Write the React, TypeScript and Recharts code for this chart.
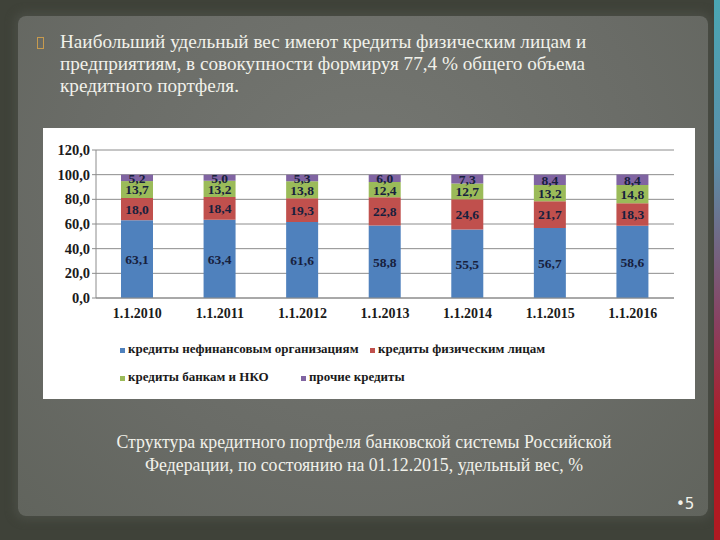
import React from "react";
import { BarChart, Bar, XAxis, YAxis, CartesianGrid, LabelList } from "recharts";

const years = ["1.1.2010", "1.1.2011", "1.1.2012", "1.1.2013", "1.1.2014", "1.1.2015", "1.1.2016"];
const nonFinancial = [63.1, 63.4, 61.6, 58.8, 55.5, 56.7, 58.6];
const individuals = [18.0, 18.4, 19.3, 22.8, 24.6, 21.7, 18.3];
const banks = [13.7, 13.2, 13.8, 12.4, 12.7, 13.2, 14.8];
const other = [5.2, 5.0, 5.3, 6.0, 7.3, 8.4, 8.4];
const yTicks = [0, 20, 40, 60, 80, 100, 120];

const SERIES = [
  { key: "nonFinancial", name: "кредиты нефинансовым организациям", color: "#4f81bd" },
  { key: "individuals", name: "кредиты физическим лицам", color: "#c0504d" },
  { key: "banks", name: "кредиты банкам и НКО", color: "#9bbb59" },
  { key: "other", name: "прочие кредиты", color: "#8064a2" },
];

const data = years.map((year, i) => ({
  year,
  nonFinancial: nonFinancial[i],
  individuals: individuals[i],
  banks: banks[i],
  other: other[i],
}));

const serif = "Liberation Serif, DejaVu Serif, serif";
const fmt = (v: number) => v.toFixed(1).replace(".", ",");

function LegendItem({ color, label, x, y }: { color: string; label: string; x: number; y: number }) {
  return (
    <div style={{ position: "absolute", left: x, top: y, display: "flex", alignItems: "flex-end", whiteSpace: "nowrap" }}>
      <span style={{ width: 5, height: 5, background: color, marginRight: 3, marginBottom: 4 }} />
      <span style={{ fontFamily: serif, fontWeight: 700, fontSize: 13, color: "#1a1a1a" }}>{label}</span>
    </div>
  );
}

export default function App() {
  return (
    <div
      style={{
        position: "absolute",
        left: 0,
        top: 0,
        width: 720,
        height: 540,
        overflow: "hidden",
        background: "#3f4239",
      }}
    >
      {/* paper */}
      <div
        style={{
          position: "absolute",
          left: 18,
          top: 16,
          width: 690,
          height: 500,
          borderRadius: 8,
          background: "radial-gradient(ellipse at 50% 35%, #757772 0%, #6a6c67 60%, #61645d 100%)",
          boxShadow: "0 0 8px 4px #4a4d45",
        }}
      />
      {/* right edge strip */}
      <div
        style={{
          position: "absolute",
          left: 714,
          top: 0,
          width: 6,
          height: 540,
          background: "linear-gradient(#4aa6b4 0%, #5a8fa8 30%, #8a4060 60%, #b01a22 80%, #b01a22 100%)",
        }}
      />

      {/* bullet */}
      <div style={{ position: "absolute", left: 37, top: 37, width: 5, height: 10, border: "1px solid #c79a4e" }} />
      <div
        style={{
          position: "absolute",
          left: 60,
          top: 31,
          fontFamily: serif,
          fontSize: 19.2,
          lineHeight: "22px",
          color: "#f1f1ea",
          whiteSpace: "nowrap",
        }}
      >
        Наибольший удельный вес имеют кредиты физическим лицам и
        <br />
        предприятиям, в совокупности формируя 77,4 % общего объема
        <br />
        кредитного портфеля.
      </div>

      {/* chart box */}
      <div style={{ position: "absolute", left: 43, top: 128, width: 652, height: 271, background: "#ffffff" }}>
        <BarChart width={652} height={271} data={data} margin={{ top: 22, right: 21, left: 0, bottom: 71 }} barSize={32}>
          <CartesianGrid vertical={false} stroke="#8c8c8c" strokeWidth={1} />
          <XAxis
            dataKey="year"
            height={30}
            stroke="#8c8c8c"
            tickLine={false}
            tickSize={0}
            tickMargin={10}
            tick={{ fontFamily: serif, fontWeight: 700, fontSize: 14, fill: "#1a1a1a" }}
          />
          <YAxis
            width={53}
            domain={[0, 120]}
            ticks={yTicks}
            interval={0}
            tickFormatter={fmt}
            stroke="#8c8c8c"
            tickSize={4}
            tickMargin={2}
            tick={{ fontFamily: serif, fontWeight: 700, fontSize: 14.5, fill: "#1a1a1a" }}
          />
          {SERIES.map((s) => (
            <Bar key={s.key} dataKey={s.key} stackId="a" fill={s.color} isAnimationActive={false}>
              <LabelList
                dataKey={s.key}
                position="center"
                formatter={(v: any) => fmt(Number(v))}
                style={{ fontFamily: serif, fontWeight: 700, fontSize: 13.5, fill: "#17203d" }}
              />
            </Bar>
          ))}
        </BarChart>
        <LegendItem color={SERIES[0].color} label={SERIES[0].name} x={77} y={213} />
        <LegendItem color={SERIES[1].color} label={SERIES[1].name} x={327} y={213} />
        <LegendItem color={SERIES[2].color} label={SERIES[2].name} x={77} y={241} />
        <LegendItem color={SERIES[3].color} label={SERIES[3].name} x={258} y={241} />
      </div>

      {/* caption */}
      <div
        style={{
          position: "absolute",
          left: 0,
          width: 728,
          top: 431,
          textAlign: "center",
          fontFamily: serif,
          fontSize: 17.8,
          lineHeight: "23px",
          color: "#f1f1ea",
        }}
      >
        Структура кредитного портфеля банковской системы Российской
        <br />
        Федерации, по состоянию на 01.12.2015, удельный вес, %
      </div>
      <div
        style={{
          position: "absolute",
          left: 676,
          top: 495,
          fontFamily: "DejaVu Sans, sans-serif",
          fontSize: 15,
          color: "#f1f1ea",
        }}
      >
        •5
      </div>
    </div>
  );
}
